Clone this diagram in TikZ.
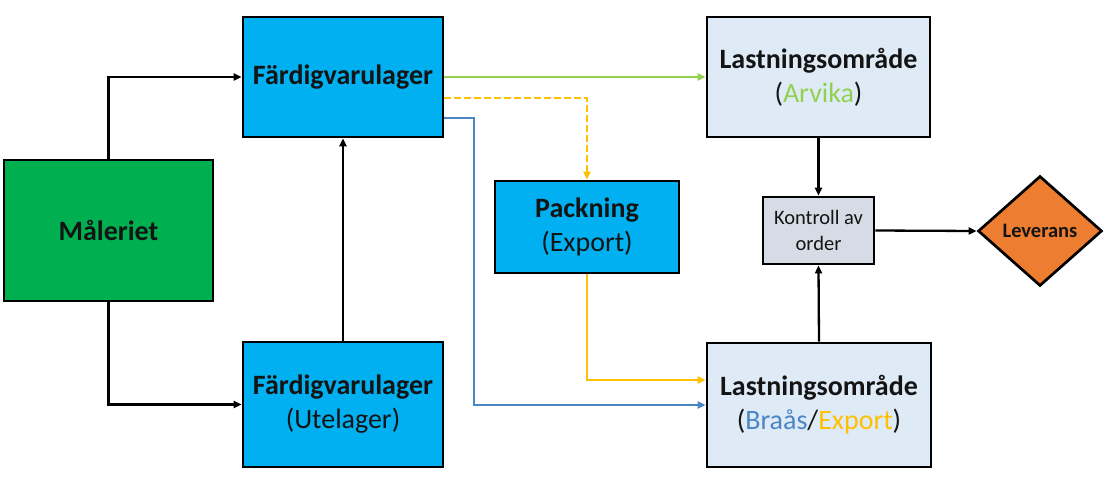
\documentclass[tikz,border=0pt]{standalone}
\usepackage{fontspec}
\setmainfont{Carlito}
\usetikzlibrary{shapes.geometric,arrows.meta}
\definecolor{boxblue}{HTML}{00B0F0}
\definecolor{boxgreen}{HTML}{00B050}
\definecolor{boxlight}{HTML}{DEEBF7}
\definecolor{boxgray}{HTML}{D6DCE5}
\definecolor{boxorange}{HTML}{ED7D31}
\definecolor{lngreen}{HTML}{92D050}
\definecolor{lnyellow}{HTML}{FFC000}
\definecolor{lnblue}{HTML}{4A86C5}
\tikzset{
  x=1pt, y=-1pt,
  procbox/.style={draw=black, line width=2.7pt, inner sep=0pt, align=center,
    font=\fontsize{28}{34}\selectfont, text=black!92},
  arr/.style={line width=2.3pt, -{Triangle[length=8pt,width=7pt]}},
  carr/.style={line width=2pt, -{Triangle[length=8pt,width=7pt]}},
}
\begin{document}
\begin{tikzpicture}
\useasboundingbox (0,0) rectangle (1104,482);
\node[procbox, fill=boxgreen, minimum width=209pt, minimum height=141pt] (mal) at (108.5,230.5) {\bfseries Måleriet};
\node[procbox, fill=boxblue, minimum width=200pt, minimum height=120pt] (fv1) at (343,77) {\bfseries Färdigvarulager};
\node[procbox, fill=boxblue, minimum width=200pt, minimum height=125pt] (fv2) at (343,404.5) {\bfseries Färdigvarulager\\(Utelager)};
\node[procbox, fill=boxblue, minimum width=184pt, minimum height=92pt] (pack) at (587,227) {\bfseries Packning\\(Export)};
\node[procbox, fill=boxlight, minimum width=223pt, minimum height=120pt] (arv) at (818.5,77) {\bfseries Lastningsområde\\(\textcolor{lngreen}{Arvika})};
\node[procbox, fill=boxlight, minimum width=224pt, minimum height=124pt] (brs) at (819,405) {\bfseries Lastningsområde\\(\textcolor{lnblue}{Braås}/\textcolor{lnyellow}{Export})};
\node[procbox, fill=boxgray, minimum width=111pt, minimum height=67pt, font=\fontsize{20.5}{26}\selectfont] (kon) at (818.5,230.5) {Kontroll av\\order};
\node[procbox, diamond, fill=boxorange, minimum width=124pt, minimum height=110pt, font=\fontsize{20.5}{26}\selectfont\bfseries] (lev) at (1040,231) {Leverans};

\draw[arr] (mal.north) |- (fv1.west);
\draw[arr] (mal.south) |- (fv2.west);
\draw[arr] (fv2.north) -- (fv1.south);
\draw[carr, lngreen] (fv1.east) -- (arv.west);
\draw[carr, lnyellow, dash pattern=on 7pt off 3pt] ([yshift=-21pt]fv1.east) -| (pack.north);
\draw[carr, lnblue] ([yshift=-41pt]fv1.east) -- ++(30,0) |- (brs.west);
\draw[carr, lnyellow] (pack.south) |- ([yshift=25pt]brs.west);
\draw[arr] (arv.south) -- (kon.north);
\draw[arr] (brs.north) -- (kon.south);
\draw[arr] (kon.east) -- (lev.west);
\end{tikzpicture}
\end{document}
